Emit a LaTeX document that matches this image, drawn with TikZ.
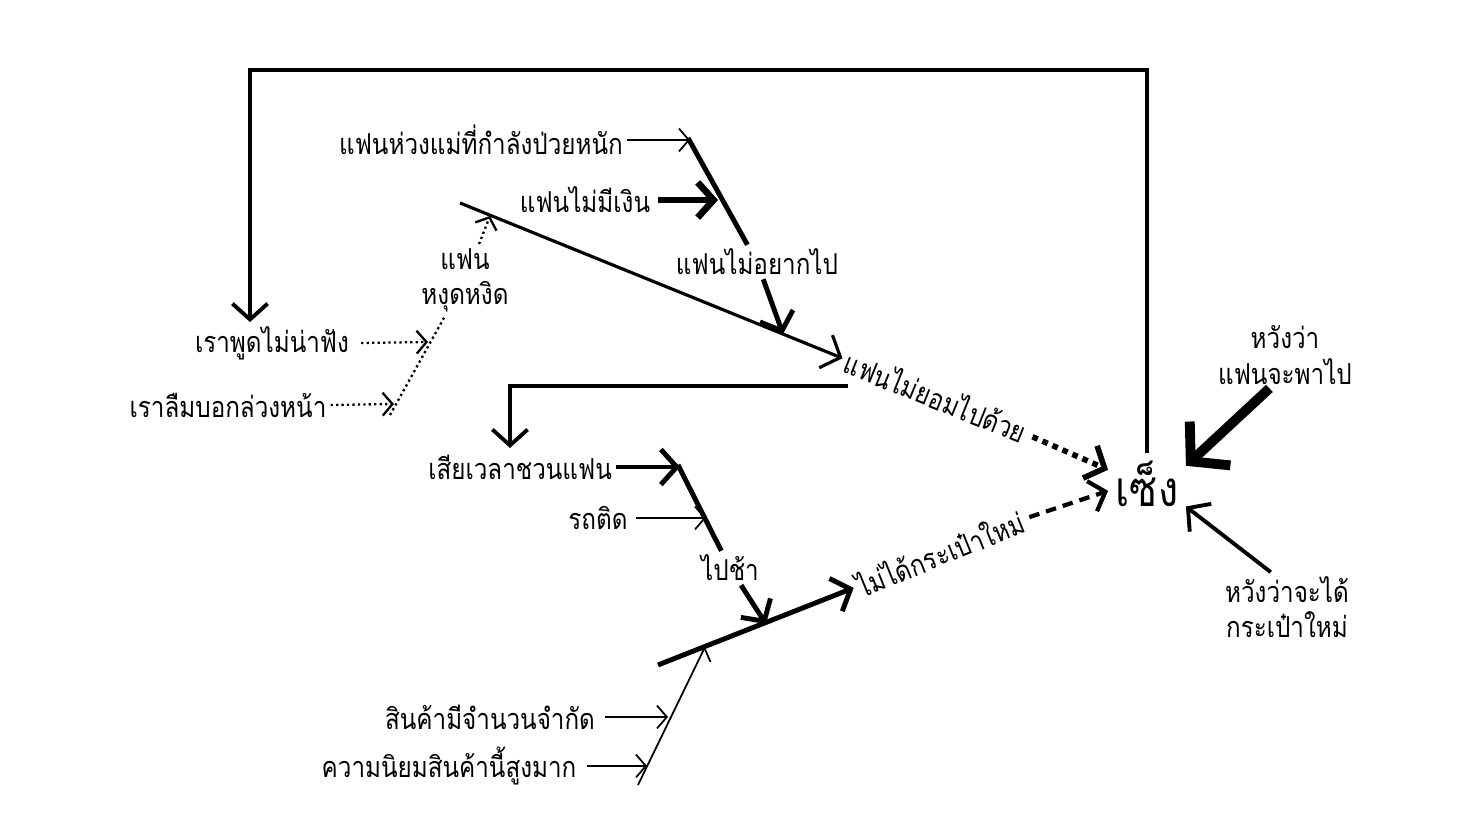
\documentclass[tikz,border=0pt]{standalone}
\usepackage{fontspec}
\newfontfamily\thaifont[Script=Thai, FakeStretch=0.84]{Loma}
\usetikzlibrary{arrows.meta}

\tikzset{
  lbl/.style={font=\thaifont\fontsize{8.2}{10}\selectfont, inner sep=1pt, align=center},
  bigtxt/.style={font=\thaifont\fontsize{14}{16}\selectfont, inner sep=2pt},
  thinarr/.style={line width=0.5pt, -{Straight Barb[length=2.8pt,width=6.5pt]}},
  midarr/.style={line width=1.1pt, -{Straight Barb[length=4.5pt,width=10pt]}},
  boldarr/.style={line width=1.4pt, -{Straight Barb[length=4.5pt,width=10pt]}},
  heavyarr/.style={line width=2.8pt, -{Straight Barb[length=7.5pt,width=17pt]}},
  dotline/.style={line width=0.65pt, dash pattern=on 0.65pt off 0.9pt},
  dotarr/.style={dotline, -{Straight Barb[length=2.8pt,width=6.5pt]}},
  bigdot/.style={line width=1.6pt, dash pattern=on 1.6pt off 1.5pt, -{Straight Barb[length=4.5pt,width=10pt]}},
  bigdash/.style={line width=1.2pt, dash pattern=on 3pt off 2pt, -{Straight Barb[length=4pt,width=9pt]}}
}

\begin{document}
\begin{tikzpicture}[x=0.01cm, y=-0.01cm]
  \useasboundingbox (0,0) rectangle (1466,825);

  % Outcome and hopes
  \node[bigtxt] (sueng) at (1147,484) {เซ็ง};
  \node[lbl] (hope1) at (1285,355) {หวังว่า\\แฟนจะพาไป};
  \node[lbl] (hope2) at (1287,607) {หวังว่าจะได้\\กระเป๋าใหม่};

  % Upper fishbone
  \node[lbl] (mom) at (481,140) {แฟนห่วงแม่ที่กำลังป่วยหนัก};
  \node[lbl] (money) at (585,200) {แฟนไม่มีเงิน};
  \node[lbl] (notwant) at (757,262) {แฟนไม่อยากไป};
  \node[lbl] (moody) at (465,280) {แฟน\\หงุดหงิด};
  \node[lbl] (talk) at (272,343) {เราพูดไม่น่าฟัง};
  \node[lbl] (forgot) at (228,405) {เราลืมบอกล่วงหน้า};
  \node[lbl, rotate=-22] (refuse) at (936,396) {แฟนไม่ยอมไปด้วย};

  % Lower fishbone
  \node[lbl] (waste) at (520,467) {เสียเวลาชวนแฟน};
  \node[lbl] (traffic) at (598,518) {รถติด};
  \node[lbl] (late) at (730,568) {ไปช้า};
  \node[lbl, rotate=22] (nobag) at (940,553) {ไม่ได้กระเป๋าใหม่};
  \node[lbl] (limited) at (490,717) {สินค้ามีจำนวนจำกัด};
  \node[lbl] (popular) at (449,766) {ความนิยมสินค้านี้สูงมาก};

  % Points on the bones
  \coordinate (s1a) at (460,203);
  \coordinate (s1c) at (783,334);
  \coordinate (s1d) at (490,216);
  \coordinate (a1) at (688,138);
  \coordinate (atop) at (690,140);
  \coordinate (amid) at (718,200);
  \coordinate (b1) at (390,415);
  \coordinate (btalk) at (428,342);
  \coordinate (bforgot) at (394,404);
  \coordinate (c1) at (678,465);
  \coordinate (ctop) at (680,467);
  \coordinate (cmid) at (706,518);
  \coordinate (d1) at (658,665);
  \coordinate (s2c) at (766,624);
  \coordinate (e1) at (638,785);
  \coordinate (e2) at (705,647);
  \coordinate (elimited) at (668,717);
  \coordinate (epopular) at (647,766);
  \coordinate (elbow) at (848,386);
  \coordinate (wastetop) at (510,448);
  \coordinate (loop) at (250,70);

  % Spines
  \draw[midarr, line width=0.9pt] (s1a) -- (refuse.west);
  \draw[boldarr] (d1) -- (nobag.west);

  % Bones of the upper spine
  \draw[line width=1.4pt] (a1) -- (notwant);
  \draw[boldarr] (notwant) -- (s1c);
  \draw[thinarr] (mom.east) -- (atop);
  \draw[boldarr, line width=1.9pt] (money.east) ++(4,0) -- (amid);
  \draw[dotline] (b1) -- (moody);
  \draw[dotarr] (moody) -- (s1d);
  \draw[dotarr] (talk.east) ++(8,0) -- (btalk);
  \draw[dotarr] (forgot.east) -- (bforgot);

  % Bones of the lower spine
  \draw[line width=1.4pt] (c1) -- (late);
  \draw[boldarr] (late) -- (s2c);
  \draw[boldarr] (waste.east) -- (ctop);
  \draw[thinarr] (traffic.east) ++(4,0) -- (cmid);
  \draw[thinarr] (e1) -- (e2);
  \draw[thinarr] (limited.east) ++(6,0) -- (elimited);
  \draw[thinarr] (popular.east) ++(6,0) -- (epopular);

  % Into the outcome
  \draw[bigdot] (refuse.east) ++(3,3) -- (sueng.160);
  \draw[bigdash] (nobag.east) ++(3,-1) -- (sueng.190);
  \draw[heavyarr] (hope1.-115) -- (sueng.25);
  \draw[midarr] (hope2.115) -- (sueng.-30);

  % Feedback lines
  \draw[midarr] (sueng.north) |- (loop) -- (talk.north -| loop);
  \draw[midarr] (elbow) -| (wastetop);
\end{tikzpicture}
\end{document}
